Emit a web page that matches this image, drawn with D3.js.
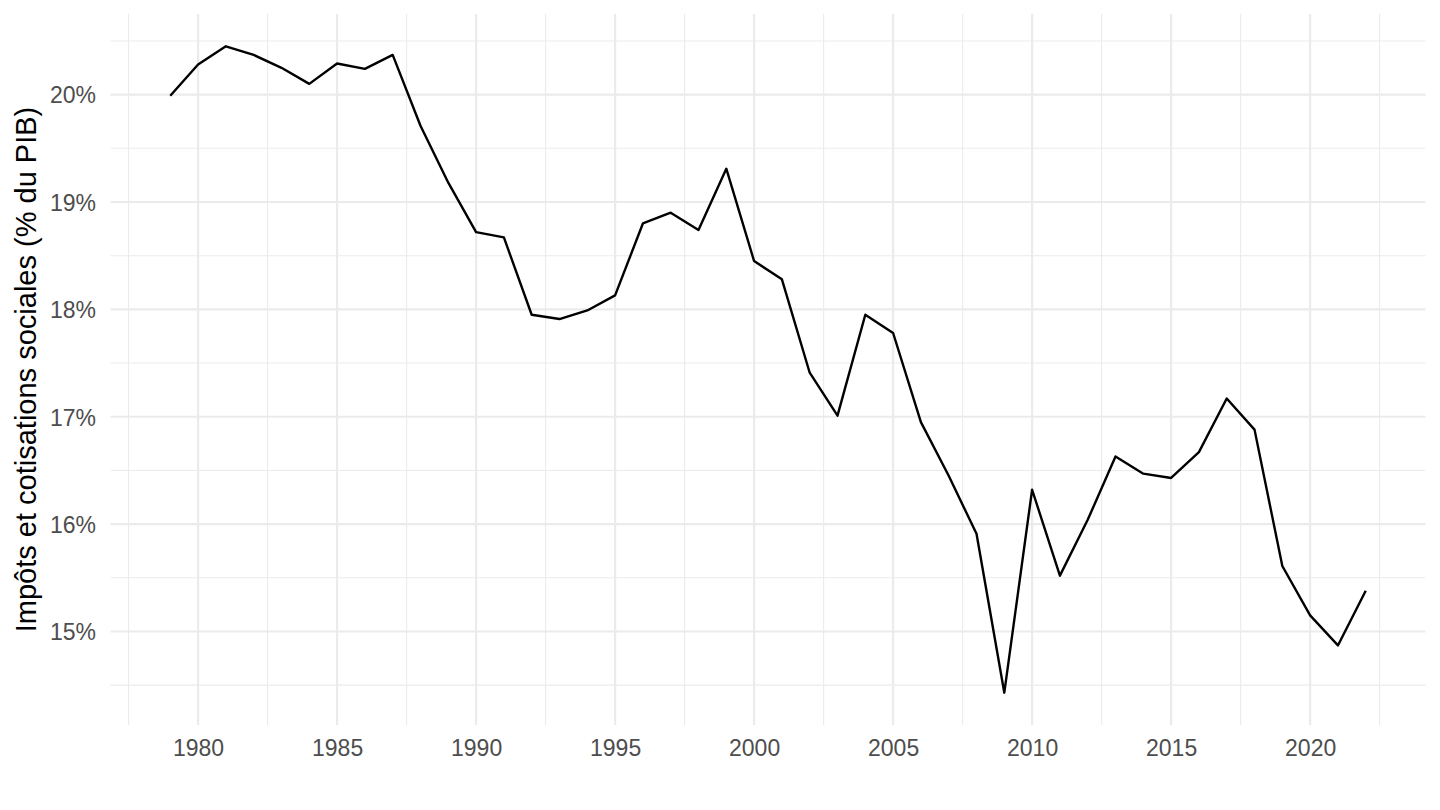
<!doctype html>
<html>
<head>
<meta charset="utf-8">
<style>
  body { margin: 0; background: #fff; }
  svg { display: block; }
  .tick text { font-family: "Liberation Sans", Arial, sans-serif; fill: #4d4d4d; }
</style>
<script src="https://d3js.org/d3.v7.min.js"></script>
</head>
<body>
<div id="chart"></div>
<script>
// data
var years = [1979, 1980, 1981, 1982, 1983, 1984, 1985, 1986, 1987, 1988,
             1989, 1990, 1991, 1992, 1993, 1994, 1995, 1996, 1997, 1998,
             1999, 2000, 2001, 2002, 2003, 2004, 2005, 2006, 2007, 2008,
             2009, 2010, 2011, 2012, 2013, 2014, 2015, 2016, 2017, 2018,
             2019, 2020, 2021, 2022];
var values = [19.99, 20.28, 20.45, 20.37, 20.25, 20.10, 20.29, 20.24, 20.37, 19.71,
              19.18, 18.72, 18.67, 17.95, 17.91, 17.99, 18.13, 18.80, 18.90, 18.74,
              19.31, 18.45, 18.28, 17.41, 17.01, 17.95, 17.78, 16.95, 16.45, 15.91,
              14.43, 16.32, 15.52, 16.04, 16.63, 16.47, 16.43, 16.67, 17.17, 16.88,
              15.61, 15.15, 14.87, 15.38];
var xTicks = [1980, 1985, 1990, 1995, 2000, 2005, 2010, 2015, 2020];
var xMinor = [1977.5, 1982.5, 1987.5, 1992.5, 1997.5, 2002.5, 2007.5, 2012.5, 2017.5, 2022.5];
var yTicks = [15, 16, 17, 18, 19, 20];
var yMinor = [14.5, 15.5, 16.5, 17.5, 18.5, 19.5, 20.5];
var yTitle = "Impôts et cotisations sociales (% du PIB)";

var W = 1440, H = 810;
var panel = {left: 110.5, right: 1425.5, top: 14, bottom: 725};

var data = years.map(function(y, i) { return {year: y, value: values[i]}; });

// ggplot-like 5% expansion
var xr = d3.extent(years), yr = d3.extent(values);
var xPad = (xr[1] - xr[0]) * 0.05, yPad = (yr[1] - yr[0]) * 0.05;

var x = d3.scaleLinear()
  .domain([xr[0] - xPad, xr[1] + xPad])
  .range([panel.left, panel.right]);
var y = d3.scaleLinear()
  .domain([yr[0] - yPad, yr[1] + yPad])
  .range([panel.bottom, panel.top]);

var svg = d3.select("#chart").append("svg")
  .attr("width", W)
  .attr("height", H);

// minor grid
svg.append("g").selectAll("line")
  .data(yMinor).enter().append("line")
    .attr("x1", panel.left).attr("x2", panel.right)
    .attr("y1", function(d) { return y(d); })
    .attr("y2", function(d) { return y(d); })
    .attr("stroke", "#ebebeb").attr("stroke-width", 1.1);
svg.append("g").selectAll("line")
  .data(xMinor).enter().append("line")
    .attr("y1", panel.top).attr("y2", panel.bottom)
    .attr("x1", function(d) { return x(d); })
    .attr("x2", function(d) { return x(d); })
    .attr("stroke", "#ebebeb").attr("stroke-width", 1.1);

// major grid
svg.append("g").selectAll("line")
  .data(yTicks).enter().append("line")
    .attr("x1", panel.left).attr("x2", panel.right)
    .attr("y1", function(d) { return y(d); })
    .attr("y2", function(d) { return y(d); })
    .attr("stroke", "#ebebeb").attr("stroke-width", 2.2);
svg.append("g").selectAll("line")
  .data(xTicks).enter().append("line")
    .attr("y1", panel.top).attr("y2", panel.bottom)
    .attr("x1", function(d) { return x(d); })
    .attr("x2", function(d) { return x(d); })
    .attr("stroke", "#ebebeb").attr("stroke-width", 2.2);

// axes (labels only)
var xAxis = svg.append("g")
  .attr("transform", "translate(0," + panel.bottom + ")")
  .call(d3.axisBottom(x).tickValues(xTicks).tickFormat(d3.format("d")).tickSize(0).tickPadding(31));
xAxis.select(".domain").remove();
xAxis.selectAll("text").style("font-size", "23px").attr("dy", 0);

var yAxis = svg.append("g")
  .attr("transform", "translate(96,0)")
  .call(d3.axisLeft(y).tickValues(yTicks).tickFormat(function(d) { return d + "%"; }).tickSize(0).tickPadding(0));
yAxis.select(".domain").remove();
yAxis.selectAll("text").style("font-size", "23px").attr("dy", "0.36em");

// line
svg.append("path")
  .datum(data)
  .attr("fill", "none")
  .attr("stroke", "#000")
  .attr("stroke-width", 2.4)
  .attr("stroke-linejoin", "round")
  .attr("d", d3.line()
    .x(function(d) { return x(d.year); })
    .y(function(d) { return y(d.value); }));

// y title
svg.append("text")
  .attr("transform", "translate(36," + ((panel.top + panel.bottom) / 2) + ") rotate(-90)")
  .attr("text-anchor", "middle")
  .style("font-family", "'Liberation Sans', Arial, sans-serif")
  .style("font-size", "29px")
  .style("fill", "#000")
  .text(yTitle);
</script>
</body>
</html>
